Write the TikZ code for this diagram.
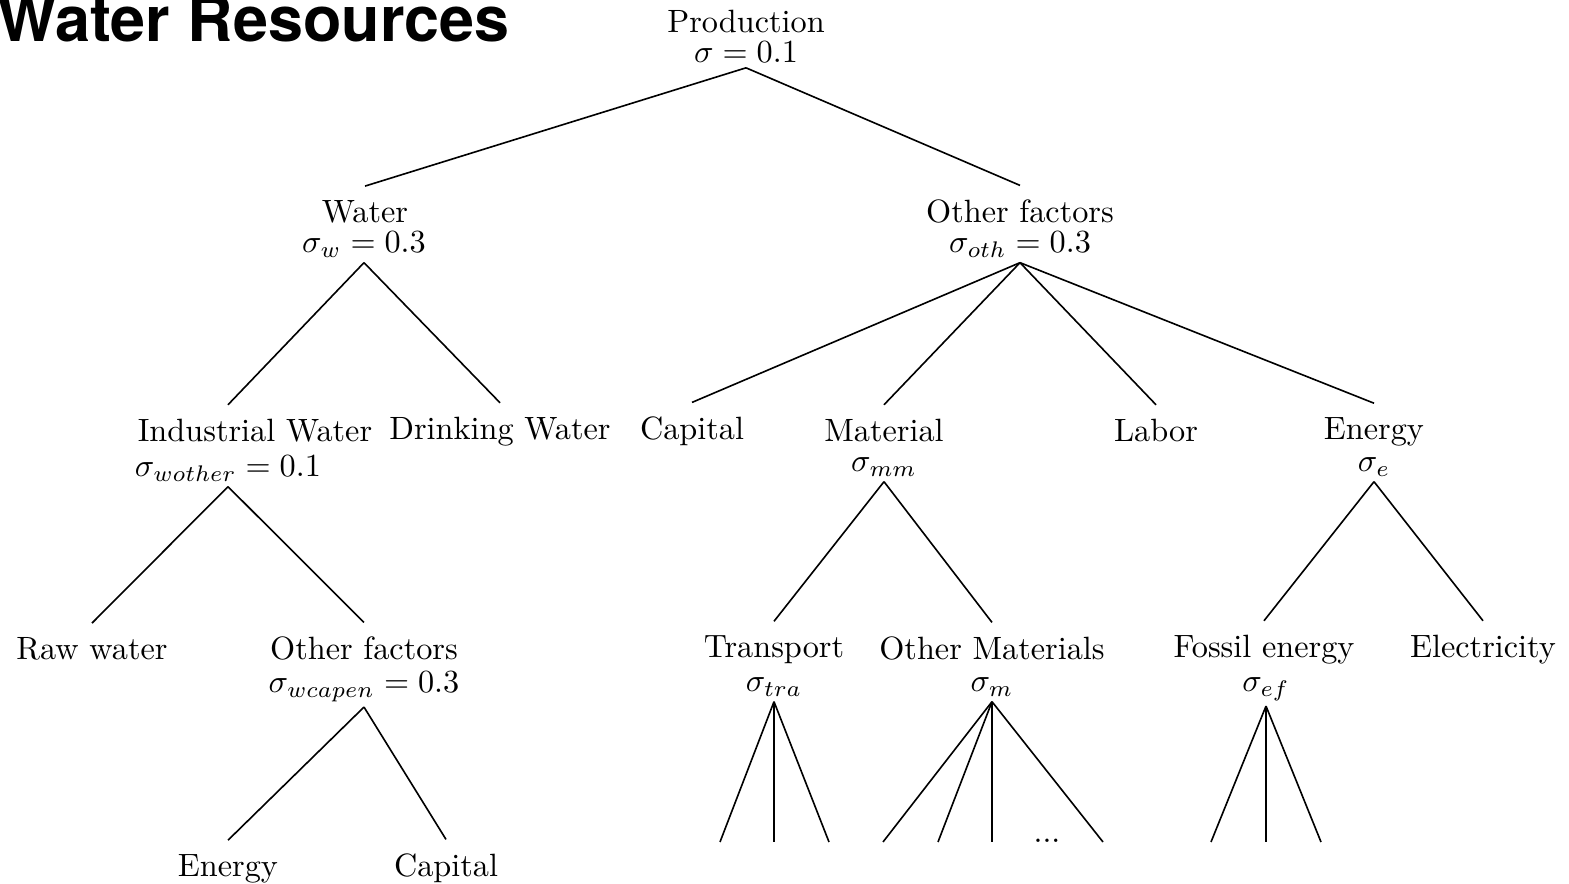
\documentclass[tikz,border=0pt]{standalone}
\usepackage{fontspec}
\newfontfamily\titlefont{TeX Gyre Heros}
\begin{document}
\begin{tikzpicture}[x=0.31pt,y=-0.31pt,line width=0.5pt,
  every node/.style={inner sep=0pt,anchor=base},
  lbl/.style={outer ysep=4.6pt},
  sig/.style={outer ysep=1.5pt}]
\useasboundingbox (0,0) rectangle (1569,884);
% title (cut by the page edge)
\node[anchor=base west,font=\titlefont\bfseries\fontsize{19.5}{20}\selectfont] (title) at (-3,42) {Water Resources};
% level 0
\node[lbl] (prod) at (746,33) {Production};
\node[sig] (prodsig) at (746,63) {$\sigma=0.1$};
% level 1
\node[lbl] (water) at (365,223) {Water};
\node[sig] (watersig) at (364,253) {$\sigma_w=0.3$};
\node[lbl] (oth) at (1020,223) {Other factors};
\node[sig] (othsig) at (1020,253) {$\sigma_{oth}=0.3$};
% level 2
\node[lbl] (iw) at (255,442) {Industrial Water};
\node[sig] (iwsig) at (228,477) {$\sigma_{wother}=0.1$};
\node[lbl] (dw) at (500,440) {Drinking Water};
\node[lbl] (cap) at (692,440) {Capital};
\node[lbl] (mat) at (884,442) {Material};
\node[sig] (matsig) at (884,472) {$\sigma_{mm}$};
\node[lbl] (lab) at (1156,442) {Labor};
\node[lbl] (en) at (1374,440) {Energy};
\node[sig] (ensig) at (1374,472) {$\sigma_e$};
% level 3
\node[lbl] (raw) at (92,660) {Raw water};
\node[lbl] (wof) at (364,660) {Other factors};
\node[sig] (wofsig) at (364,693) {$\sigma_{wcapen}=0.3$};
\node[lbl] (tra) at (774,658) {Transport};
\node[sig] (trasig) at (774,692) {$\sigma_{tra}$};
\node[lbl] (om) at (992,660) {Other Materials};
\node[sig] (omsig) at (992,692) {$\sigma_m$};
\node[lbl] (fe) at (1264,658) {Fossil energy};
\node[sig] (fesig) at (1266,692) {$\sigma_{ef}$};
\node[lbl] (el) at (1483,658) {Electricity};
% level 4
\node[lbl] (wen) at (228,877) {Energy};
\node[lbl] (wcap) at (446,877) {Capital};
\node (omdots) at (1047,843) {...};
% branches
\draw (prodsig.south) -- (water.north);
\draw (prodsig.south) -- (oth.north);
\draw (watersig.south) -- (iw.north -| iwsig.south);
\draw (watersig.south) -- (dw.north);
\foreach \c in {cap,mat,lab,en} {\draw (othsig.south) -- (\c.north);}
\draw (iwsig.south) -- (raw.north);
\draw (iwsig.south) -- (wof.north);
\draw (wofsig.south) -- (wen.north);
\draw (wofsig.south) -- (wcap.north);
\draw (matsig.south) -- (tra.north);
\draw (matsig.south) -- (om.north);
\draw (ensig.south) -- (fe.north);
\draw (ensig.south) -- (el.north);
% open ends
\foreach \n/\x in {a/720,b/774,c/829} {\coordinate (tra\n) at (\x,842); \draw (trasig.south) -- (tra\n);}
\foreach \n/\x in {a/883,b/938,c/992,d/1103} {\coordinate (om\n) at (\x,842); \draw (omsig.south) -- (om\n);}
\foreach \n/\x in {a/1211,b/1266,c/1321} {\coordinate (fe\n) at (\x,842); \draw (fesig.south) -- (fe\n);}
\end{tikzpicture}
\end{document}
